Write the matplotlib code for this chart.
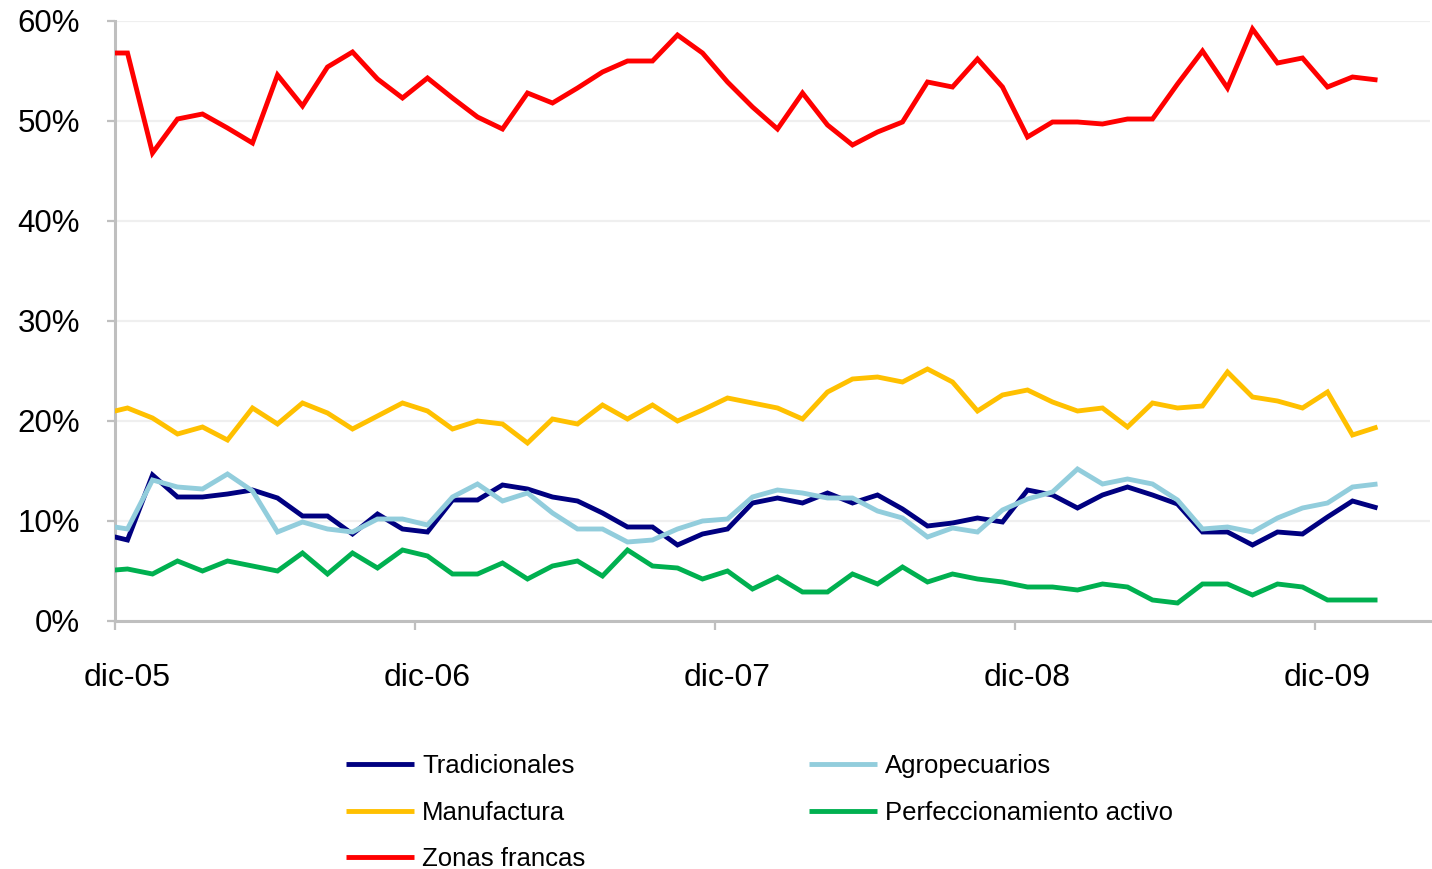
import matplotlib
matplotlib.use("Agg")
import matplotlib.pyplot as plt
from matplotlib.ticker import FixedLocator, FuncFormatter
import numpy as np
import pandas as pd

plt.rcParams['font.family'] = ['Liberation Sans', 'DejaVu Sans']

# Monthly export shares (%), nov-05 .. feb-10
months = pd.period_range("2005-11", "2010-02", freq="M")

tradicionales = [8.7, 8.1, 14.6, 12.4, 12.4, 12.7, 13.1, 12.3, 10.5, 10.5, 8.7, 10.7,
                 9.2, 8.9, 12.1, 12.1, 13.6, 13.2, 12.4, 12.0, 10.8, 9.4, 9.4, 7.6,
                 8.7, 9.2, 11.8, 12.3, 11.8, 12.8, 11.8, 12.6, 11.2, 9.5, 9.8, 10.3,
                 9.9, 13.1, 12.6, 11.3, 12.6, 13.4, 12.6, 11.7, 8.9, 8.9, 7.6, 8.9,
                 8.7, 10.4, 12.0, 11.3]
agropecuarios = [9.6, 9.2, 14.1, 13.4, 13.2, 14.7, 13.0, 8.9, 9.9, 9.2, 8.9, 10.2,
                 10.2, 9.6, 12.4, 13.7, 12.0, 12.8, 10.8, 9.2, 9.2, 7.9, 8.1, 9.2,
                 10.0, 10.2, 12.4, 13.1, 12.8, 12.3, 12.3, 11.0, 10.3, 8.4, 9.3, 8.9,
                 11.1, 12.2, 12.9, 15.2, 13.7, 14.2, 13.7, 12.1, 9.2, 9.4, 8.9, 10.3,
                 11.3, 11.8, 13.4, 13.7]
manufactura = [20.7, 21.3, 20.3, 18.7, 19.4, 18.1, 21.3, 19.7, 21.8, 20.8, 19.2, 20.5,
               21.8, 21.0, 19.2, 20.0, 19.7, 17.8, 20.2, 19.7, 21.6, 20.2, 21.6, 20.0,
               21.1, 22.3, 21.8, 21.3, 20.2, 22.9, 24.2, 24.4, 23.9, 25.2, 23.9, 21.0,
               22.6, 23.1, 21.9, 21.0, 21.3, 19.4, 21.8, 21.3, 21.5, 24.9, 22.4, 22.0,
               21.3, 22.9, 18.6, 19.4]
perfeccionamiento = [5.0, 5.2, 4.7, 6.0, 5.0, 6.0, 5.5, 5.0, 6.8, 4.7, 6.8, 5.3,
                     7.1, 6.5, 4.7, 4.7, 5.8, 4.2, 5.5, 6.0, 4.5, 7.1, 5.5, 5.3,
                     4.2, 5.0, 3.2, 4.4, 2.9, 2.9, 4.7, 3.7, 5.4, 3.9, 4.7, 4.2,
                     3.9, 3.4, 3.4, 3.1, 3.7, 3.4, 2.1, 1.8, 3.7, 3.7, 2.6, 3.7,
                     3.4, 2.1, 2.1, 2.1]
zonas_francas = [56.8, 56.8, 46.8, 50.2, 50.7, 49.3, 47.8, 54.6, 51.5, 55.4, 56.9, 54.2,
                 52.3, 54.3, 52.3, 50.4, 49.2, 52.8, 51.8, 53.3, 54.9, 56.0, 56.0, 58.6,
                 56.8, 53.9, 51.4, 49.2, 52.8, 49.6, 47.6, 48.9, 49.9, 53.9, 53.4, 56.2,
                 53.4, 48.4, 49.9, 49.9, 49.7, 50.2, 50.2, 53.7, 57.0, 53.3, 59.2, 55.8,
                 56.3, 53.4, 54.4, 54.1]

series = [
    ("Tradicionales", tradicionales, "#000080"),
    ("Agropecuarios", agropecuarios, "#92CDDC"),
    ("Manufactura", manufactura, "#FFC000"),
    ("Perfeccionamiento activo", perfeccionamiento, "#00B050"),
    ("Zonas francas", zonas_francas, "#FF0000"),
]

# month index relative to dic-05; each point sits in the middle of its month
start = pd.Period("2005-12", freq="M")
xpos = np.array([(m - start).n for m in months]) + 0.5

W, H = 1432, 869
fig = plt.figure(figsize=(W / 100, H / 100), dpi=100)
ax = fig.add_axes([115 / W, 1 - 621 / H, (1430 - 115) / W, 600 / H])

LW = 3.5
handles = {}
for name, vals, color in series:
    (ln,) = ax.plot(xpos, vals, color=color, lw=LW, solid_joinstyle="miter",
                    solid_capstyle="butt", label=name, zorder=3)
    handles[name] = ln

ax.set_xlim(0, 52.6)
ax.set_ylim(0, 60)

axis_gray = "#BFBFBF"
for s in ("top", "right"):
    ax.spines[s].set_visible(False)
for s in ("left", "bottom"):
    ax.spines[s].set_color(axis_gray)
    ax.spines[s].set_linewidth(2.2)

ax.yaxis.set_major_locator(FixedLocator(np.arange(0, 61, 10)))
ax.yaxis.set_major_formatter(FuncFormatter(lambda v, p: f"{v:.0f}%"))
ax.grid(axis="y", color="#EFEFEF", lw=1.6, zorder=0)
ax.tick_params(axis="y", length=5.8, width=1.6, color=axis_gray, pad=19.5,
               labelsize=22.5, labelcolor="black")

year_ticks = np.arange(0, 49, 12)
ax.xaxis.set_major_locator(FixedLocator(year_ticks))
ax.xaxis.set_major_formatter(FuncFormatter(lambda v, p: ""))
ax.xaxis.set_minor_locator(FixedLocator(year_ticks + 0.5))
tick_labels = ["dic-05", "dic-06", "dic-07", "dic-08", "dic-09"]
ax.xaxis.set_minor_formatter(FuncFormatter(
    lambda v, p: tick_labels[int(round((v - 0.5) / 12))]))
ax.tick_params(axis="x", which="major", length=6.5, width=1.6, color=axis_gray)
ax.tick_params(axis="x", which="minor", length=0, pad=30, labelsize=23,
               labelcolor="black")

order = ["Tradicionales", "Manufactura", "Zonas francas",
         "Agropecuarios", "Perfeccionamiento activo"]
leg = fig.legend([handles[n] for n in order], order, ncol=2,
                 loc="upper left", bbox_to_anchor=(346 / W, 1 - 754 / H),
                 frameon=False, fontsize=18.5, handlelength=2.65,
                 handletextpad=0.31, columnspacing=8.7, labelspacing=0.88,
                 borderaxespad=0, borderpad=0)
for ln in leg.get_lines():
    ln.set_linewidth(LW)

fig.savefig("out.png", dpi=100)
